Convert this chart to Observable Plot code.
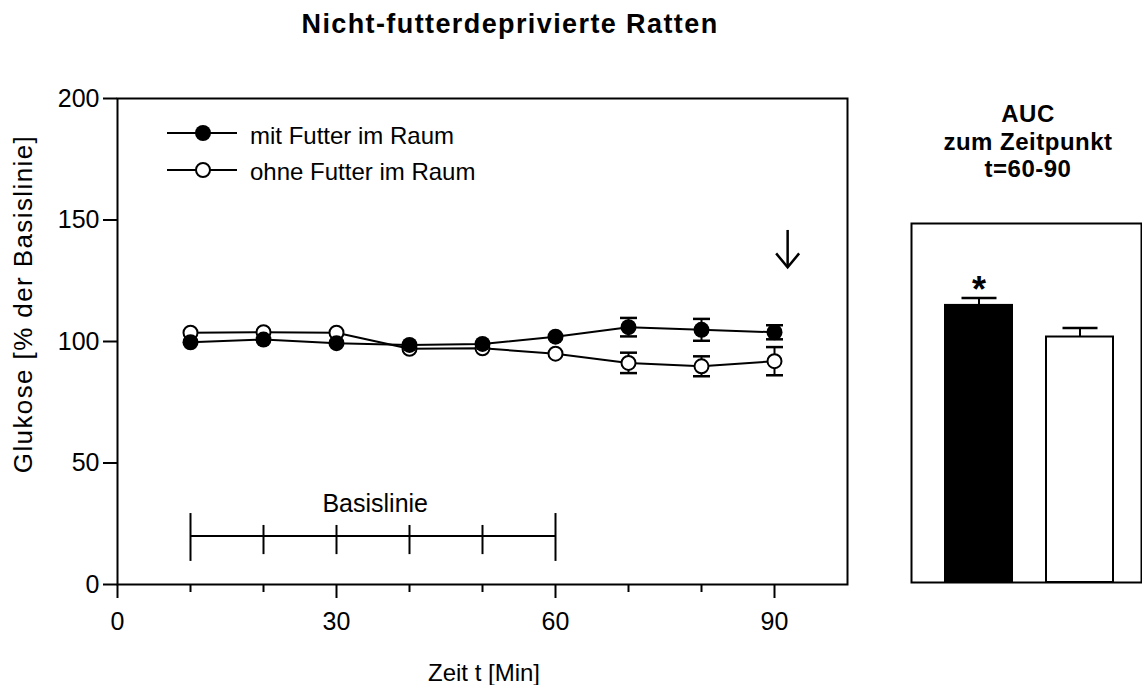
<!DOCTYPE html>
<html><head><meta charset="utf-8">
<script src="https://cdn.jsdelivr.net/npm/d3@7"></script>
<script src="https://cdn.jsdelivr.net/npm/@observablehq/plot@0.6"></script>
<style>
body{margin:0;background:#fff;}
#wrap{position:relative;width:1142px;height:685px;overflow:hidden;font-family:"Liberation Sans",Arial,sans-serif;color:#000;background:#fff;}
.abs{position:absolute;white-space:nowrap;line-height:1;}
svg{position:absolute;top:0;}
</style></head><body><div id="wrap"></div>
<script>
// ---------- data ----------
const times = [10, 20, 30, 40, 50, 60, 70, 80, 90];
const mitMean = [99.7, 100.8, 99.3, 98.6, 99.0, 102.0, 105.9, 104.8, 103.8];
const mitSem = [null, null, null, null, null, null, 3.8, 4.5, 2.9];
const ohneMean = [103.6, 103.8, 103.6, 97.0, 97.2, 95.0, 91.2, 89.8, 91.9];
const ohneSem = [null, null, null, null, null, null, 4.2, 4.1, 5.8];
const seriesNames = ["mit Futter im Raum", "ohne Futter im Raum"];

const xMajorTicks = [0, 30, 60, 90];
const xMinorTicks = [10, 20, 40, 50, 70, 80];
const yTicks = [0, 50, 100, 150, 200];

// Basislinie bracket
const baseTicks = [10, 20, 30, 40, 50, 60];
const baseTickLow = [9.5, 12.3, 12.3, 12.3, 12.3, 9.5];
const baseTickHigh = [29.2, 24.3, 24.3, 24.3, 24.3, 29.2];
const baseLevel = 20;
const baseLabel = "Basislinie";
const baseLabelPos = [35.3, 33.3];

// arrow marker at t≈90
const arrowX = 91.8;
const arrowFrom = 145.7;
const arrowTo = 130.5;

// AUC bars
const aucGroups = ["mit Futter im Raum", "ohne Futter im Raum"];
const aucMean = [114.0, 101.0];
const aucSem = [3.0, 3.7];
const aucSig = ["*", ""];

// ---------- derived tables ----------
const mit = times.map((t, i) => ({t, mean: mitMean[i], sem: mitSem[i]}));
const ohne = times.map((t, i) => ({t, mean: ohneMean[i], sem: ohneSem[i]}));
const base = baseTicks.map((t, i) => ({t, lo: baseTickLow[i], hi: baseTickHigh[i]}));
const auc = aucGroups.map((g, i) => ({g, mean: aucMean[i], sem: aucSem[i], sig: aucSig[i]}));

const capSymbol = {draw(ctx, size) { const r = Math.sqrt(size / Math.PI); ctx.moveTo(-r, 0); ctx.lineTo(r, 0); }};
const chevron = {draw(ctx, size) { const r = Math.sqrt(size / Math.PI); ctx.moveTo(-0.82 * r, -r); ctx.lineTo(0, 0); ctx.lineTo(0.82 * r, -r); }};

const FONT = '"Liberation Sans", Arial, sans-serif';

function seriesMarks(data, filled) {
  const errs = data.filter(d => d.sem != null);
  return [
    Plot.line(data, {x: "t", y: "mean", stroke: "black", strokeWidth: 2}),
    Plot.ruleX(errs, {x: "t", y1: d => d.mean - d.sem, y2: d => d.mean + d.sem, stroke: "black", strokeWidth: 2}),
    Plot.dot(errs, {x: "t", y: d => d.mean + d.sem, symbol: capSymbol, r: 8.5, stroke: "black", fill: "none", strokeWidth: 2.5}),
    Plot.dot(errs, {x: "t", y: d => d.mean - d.sem, symbol: capSymbol, r: 8.5, stroke: "black", fill: "none", strokeWidth: 2.5}),
    filled
      ? Plot.dot(data, {x: "t", y: "mean", r: 8, fill: "black", stroke: "none"})
      : Plot.dot(data, {x: "t", y: "mean", r: 7, fill: "white", stroke: "black", strokeWidth: 2})
  ];
}

const main = Plot.plot({
  width: 880, height: 685,
  marginLeft: 117, marginRight: 33, marginTop: 98, marginBottom: 101,
  x: {domain: [0, 100]},
  y: {domain: [0, 200]},
  style: {fontFamily: FONT, fontSize: "25px", color: "black", background: "transparent", overflow: "visible"},
  marks: [
    Plot.frame({stroke: "black", strokeWidth: 2}),
    Plot.axisY({ticks: yTicks, tickSize: 14, tickPadding: 4, tickFormat: d => String(d), label: null, strokeWidth: 2, fontSize: 25}),
    Plot.axisX({ticks: xMajorTicks, tickSize: 14, tickPadding: 14, tickFormat: d => String(d), label: null, strokeWidth: 2, fontSize: 25}),
    Plot.axisX({ticks: xMinorTicks, tickSize: 8, tickFormat: () => "", label: null, strokeWidth: 2}),
    // Basislinie bracket
    Plot.ruleY([baseLevel], {x1: baseTicks[0], x2: baseTicks[baseTicks.length - 1], stroke: "black", strokeWidth: 2}),
    Plot.ruleX(base, {x: "t", y1: "lo", y2: "hi", stroke: "black", strokeWidth: 2}),
    Plot.text([baseLabel], {x: baseLabelPos[0], y: baseLabelPos[1], text: d => d, fontSize: 25, fill: "black"}),
    // arrow
    Plot.ruleX([arrowX], {x: d => d, y1: arrowFrom, y2: arrowTo, stroke: "black", strokeWidth: 2.5}),
    Plot.dot([arrowX], {x: d => d, y: arrowTo, symbol: chevron, r: 14, stroke: "black", fill: "none", strokeWidth: 2.5}),
    ...seriesMarks(ohne, false),
    ...seriesMarks(mit, true)
  ]
});

const bars = Plot.plot({
  width: 262, height: 685,
  marginLeft: 31, marginRight: 1, marginTop: 223, marginBottom: 103,
  x: {type: "band", domain: aucGroups, range: [64, 234], paddingInner: 0.333, paddingOuter: 0, axis: null},
  y: {domain: [0, 147.7], axis: null},
  color: {domain: aucGroups, range: ["black", "white"]},
  style: {fontFamily: FONT, color: "black", background: "transparent", overflow: "visible"},
  marks: [
    Plot.frame({stroke: "black", strokeWidth: 2}),
    Plot.ruleX(auc, {x: "g", y1: "mean", y2: d => d.mean + d.sem, stroke: "black", strokeWidth: 2}),
    Plot.dot(auc, {x: "g", y: d => d.mean + d.sem, symbol: capSymbol, r: 17.5, stroke: "black", fill: "none", strokeWidth: 2.5}),
    Plot.barY(auc, {x: "g", y: "mean", fill: "g", stroke: "black", strokeWidth: 2}),
    Plot.text(auc, {x: "g", y: d => d.mean + d.sem, text: "sig", dy: -8, fontSize: 36, fontWeight: "bold", fill: "black"})
  ]
});

const wrap = document.getElementById("wrap");
main.style.left = "0px";
bars.style.left = "880px";
wrap.appendChild(main);
wrap.appendChild(bars);

function addText(txt, {x, baseline, size, weight = "normal", anchor = "middle", spacing = 0}) {
  const d = document.createElement("div");
  d.className = "abs";
  d.textContent = txt;
  d.style.fontSize = size + "px";
  d.style.fontWeight = weight;
  d.style.letterSpacing = spacing + "px";
  d.style.top = (baseline - 0.8465 * size) + "px";
  d.style.left = x + "px";
  if (anchor === "middle") d.style.transform = "translateX(-50%)";
  wrap.appendChild(d);
  return d;
}

addText("Nicht-futterdeprivierte Ratten", {x: 510, baseline: 34, size: 27, weight: "bold", spacing: 1.4});
addText("Zeit t [Min]", {x: 484, baseline: 681, size: 24});
addText("AUC", {x: 1028, baseline: 122, size: 24, weight: "bold", spacing: 0.5});
addText("zum Zeitpunkt", {x: 1028, baseline: 150, size: 24, weight: "bold", spacing: 0.5});
addText("t=60-90", {x: 1028, baseline: 177, size: 24, weight: "bold", spacing: 0.5});

// rotated y label
const yl = document.createElement("div");
yl.className = "abs";
yl.textContent = "Glukose [% der Basislinie]";
yl.style.fontSize = "26px";
yl.style.letterSpacing = "1.4px";
yl.style.left = "23px";
yl.style.top = "304px";
yl.style.transform = "translate(-50%,-50%) rotate(-90deg)";
wrap.appendChild(yl);

// legend
const rows = [{name: seriesNames[0], filled: true, y: 133.3, base: 144}, {name: seriesNames[1], filled: false, y: 170, base: 180}];
rows.forEach(r => {
  const ns = "http://www.w3.org/2000/svg";
  const s = document.createElementNS(ns, "svg");
  s.setAttribute("width", 90); s.setAttribute("height", 24);
  s.style.left = "160px"; s.style.top = (r.y - 12) + "px";
  const ln = document.createElementNS(ns, "line");
  ln.setAttribute("x1", 7); ln.setAttribute("x2", 77); ln.setAttribute("y1", 12); ln.setAttribute("y2", 12);
  ln.setAttribute("stroke", "black"); ln.setAttribute("stroke-width", 2);
  const c = document.createElementNS(ns, "circle");
  c.setAttribute("cx", 43); c.setAttribute("cy", 12);
  c.setAttribute("r", r.filled ? 8 : 7);
  c.setAttribute("fill", r.filled ? "black" : "white");
  if (!r.filled) { c.setAttribute("stroke", "black"); c.setAttribute("stroke-width", 2); }
  s.appendChild(ln); s.appendChild(c);
  wrap.appendChild(s);
  addText(r.name, {x: 250, baseline: r.base, size: 24, anchor: "start"});
});
</script></body></html>
